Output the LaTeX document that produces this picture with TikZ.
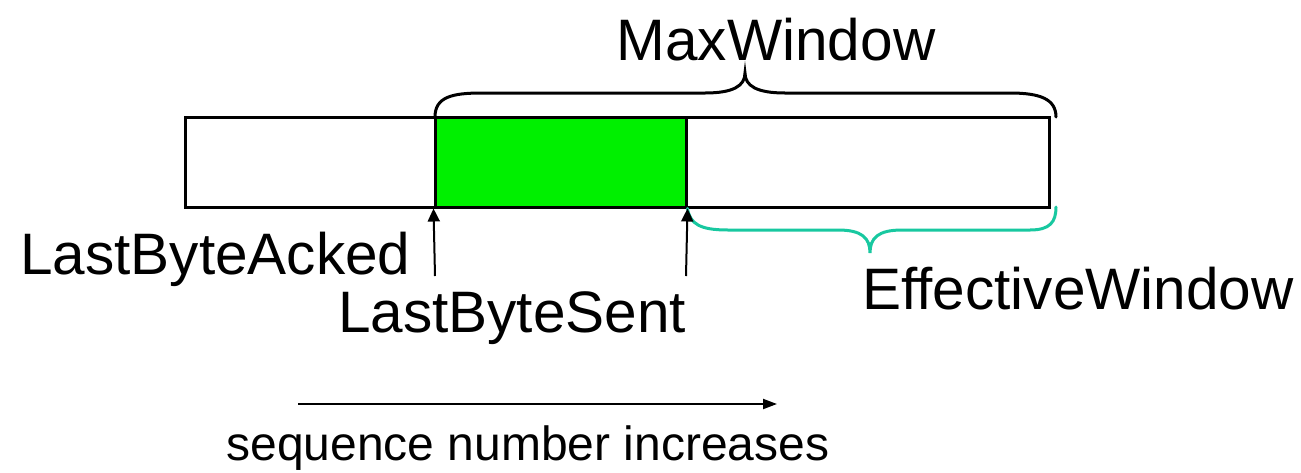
\documentclass[tikz,border=0pt]{standalone}
\usepackage{fontspec}
\setmainfont{Liberation Sans}
\usetikzlibrary{arrows.meta}
\definecolor{sentgreen}{RGB}{0,240,0}
\definecolor{effteal}{RGB}{24,200,160}
\tikzset{
  bigtext/.style={font=\fontsize{58.5}{68}\selectfont, inner sep=0pt},
  smalltext/.style={font=\fontsize{48}{57}\selectfont, inner sep=0pt},
  bufbox/.style={draw=black, line width=3pt, inner sep=0pt},
  pointer/.style={line width=2pt, -{Triangle[length=13pt,width=12pt]}},
  bracestyle/.style={line width=3pt, line cap=round},
}
\begin{document}
\begin{tikzpicture}[x=1pt, y=-1pt]
  \useasboundingbox (0,0) rectangle (1301,472);
  % the send buffer and the bytes in flight
  \node[bufbox, minimum width=864pt, minimum height=90pt] (buf) at (617,162) {};
  \node[bufbox, fill=sentgreen, minimum width=251pt, minimum height=90pt] (sent) at (560.5,162) {};
  % MaxWindow brace
  \coordinate (mwL) at (435,117);
  \coordinate (mwR) at (1056,117);
  \draw[bracestyle] (mwL) .. controls (435,97) and (452,93) .. (482,93) -- (705,93)
     .. controls (733,93) and (745,86) .. (745,73)
     .. controls (745,86) and (757,93) .. (785,93) -- (1010,93)
     .. controls (1040,93) and (1056,99) .. (mwR);
  \node[bigtext, anchor=base] (maxw) at (776,60) {MaxWindow};
  % EffectiveWindow brace
  \coordinate (ewL) at (sent.south east);
  \coordinate (ewR) at (1056,207);
  \draw[bracestyle, color=effteal] (ewL) .. controls (690,224) and (700,230) .. (728,230) -- (838,230)
     .. controls (862,230) and (870,238) .. (870,253)
     .. controls (870,238) and (878,230) .. (902,230) -- (1030,230)
     .. controls (1050,230) and (1056,222) .. (ewR);
  \node[bigtext, anchor=base] (effw) at (1078,309) {EffectiveWindow};
  % pointers
  \coordinate (ackfoot) at (435,276);
  \coordinate (sentfoot) at (686,276);
  \draw[pointer] (ackfoot) -- (sent.south west);
  \draw[pointer] (sentfoot) -- (sent.south east);
  \node[bigtext, anchor=base west] (acked) at (20,274) {LastByteAcked};
  \node[bigtext, anchor=base] (lsent) at (512,332) {LastByteSent};
  % direction of increasing sequence numbers
  \coordinate (seqA) at (298,404);
  \coordinate (seqB) at (777,404);
  \draw[line width=2pt, -{Triangle[length=14pt,width=10pt]}] (seqA) -- (seqB);
  \node[smalltext, anchor=base] (seq) at (528,460) {sequence number increases};
\end{tikzpicture}
\end{document}
